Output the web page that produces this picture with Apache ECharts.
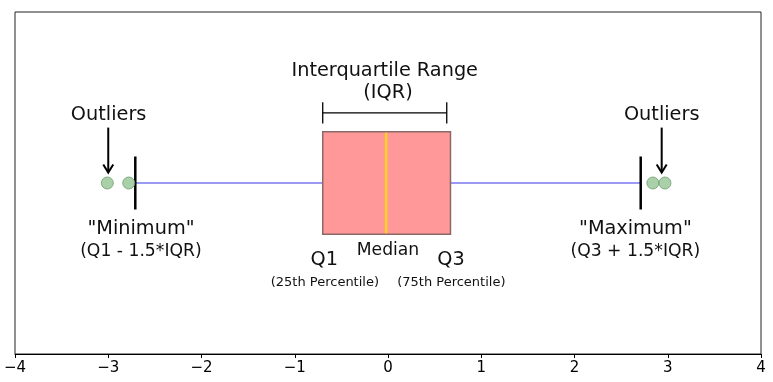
<!DOCTYPE html>
<html><head><meta charset="utf-8">
<script src="https://cdn.jsdelivr.net/npm/echarts@6/dist/echarts.min.js"></script>
<style>html,body{margin:0;padding:0;background:#fff}#c{width:773px;height:382px}</style>
</head><body><div id="c"></div>
<script>
// ---- data ----
const xTickValues = [-4, -3, -2, -1, 0, 1, 2, 3, 4];
const boxStats = [-2.71, -0.70, -0.02, 0.67, 2.71]; // "Minimum", Q1, median, Q3, "Maximum"
const outliers = [-3.01, -2.78, 2.84, 2.97];
const iqrBracket = [-0.70, 0.63];
const arrowX = [-3.0, 2.935];
const arrowStartY = [0.324, 0.324];
const arrowEndY = [0.061, 0.061];
const labelText = ['Interquartile Range', '(IQR)', 'Outliers', 'Outliers', '"Minimum"', '(Q1 - 1.5*IQR)',
  '"Maximum"', '(Q3 + 1.5*IQR)', 'Q1', 'Q3', 'Median', '(25th Percentile)', '(75th Percentile)'];
const labelX = [-0.035, 0.0, -2.996, 2.935, -2.649, -2.65, 2.653, 2.652, -0.683, 0.675, 0.0, -0.677, 0.679];
const labelY = [0.657, 0.525, 0.40, 0.40, -0.267, -0.400, -0.267, -0.400, -0.449, -0.449, -0.395, -0.580, -0.580];
const labelKind = ['big', 'big', 'big', 'big', 'big', 'mid', 'big', 'mid', 'big', 'big', 'mid', 'small', 'small'];

// ---- chart ----
const FONT = 'DejaVu Sans';
const kindSize = { big: 19.3, mid: 17.2, small: 13 };
const chart = echarts.init(document.getElementById('c'), null, { renderer: 'canvas' });

chart.setOption({
  animation: false,
  backgroundColor: '#ffffff',
  grid: { left: 15, right: 12, top: 12, bottom: 28, show: true, borderColor: '#222', borderWidth: 1, backgroundColor: 'transparent' },
  xAxis: {
    type: 'value', min: xTickValues[0], max: xTickValues[xTickValues.length - 1], interval: 1,
    axisLine: { show: true, onZero: false, lineStyle: { color: '#000', width: 1 } },
    axisTick: { show: true, length: 4, lineStyle: { color: '#000' } },
    axisLabel: { color: '#000', fontFamily: FONT, fontSize: 15, margin: 7,
      formatter: v => String(v).replace('-', '\u2212') },
    splitLine: { show: false }
  },
  yAxis: { type: 'value', min: -1, max: 1, show: false, splitLine: { show: false } },
  series: [
    {
      type: 'custom', coordinateSystem: 'cartesian2d', data: [boxStats], z: 2,
      renderItem(params, api) {
        const mn = api.value(0), q1 = api.value(1), md = api.value(2), q3 = api.value(3), mx = api.value(4);
        const p = (x, y) => api.coord([x, y]);
        const c0 = p(mn, 0), c1 = p(q1, 0), c3 = p(q3, 0), c4 = p(mx, 0);
        const tl = p(q1, 0.3), br = p(q3, -0.3);
        const mt = p(md, 0.3), mb = p(md, -0.3);
        const capT0 = p(mn, 0.155), capB0 = p(mn, -0.155), capT4 = p(mx, 0.155), capB4 = p(mx, -0.155);
        return { type: 'group', children: [
          { type: 'line', shape: { x1: c0[0], y1: c0[1], x2: c1[0], y2: c1[1] }, style: { stroke: '#9a9af5', lineWidth: 2 } },
          { type: 'line', shape: { x1: c3[0], y1: c3[1], x2: c4[0], y2: c4[1] }, style: { stroke: '#9a9af5', lineWidth: 2 } },
          { type: 'rect', shape: { x: tl[0], y: tl[1], width: br[0] - tl[0], height: br[1] - tl[1] },
            style: { fill: '#ff9999', stroke: '#8c6868', lineWidth: 1.5 } },
          { type: 'line', shape: { x1: mt[0], y1: mt[1] + 1, x2: mb[0], y2: mb[1] - 1 }, style: { stroke: '#ffd21f', lineWidth: 2.5 } },
          { type: 'line', shape: { x1: capT0[0], y1: capT0[1], x2: capB0[0], y2: capB0[1] }, style: { stroke: '#000', lineWidth: 2.5 } },
          { type: 'line', shape: { x1: capT4[0], y1: capT4[1], x2: capB4[0], y2: capB4[1] }, style: { stroke: '#000', lineWidth: 2.5 } }
        ] };
      }
    },
    {
      type: 'scatter', data: outliers.map(v => [v, 0]), symbol: 'circle', symbolSize: 12, z: 3,
      itemStyle: { color: '#93c493', borderColor: '#6f9f6f', borderWidth: 1 }
    },
    {
      type: 'custom', coordinateSystem: 'cartesian2d', z: 3,
      data: [[iqrBracket[0], iqrBracket[1], 0.41]],
      renderItem(params, api) {
        const a = api.coord([api.value(0), api.value(2)]);
        const b = api.coord([api.value(1), api.value(2)]);
        const h = api.size([0, 0.062])[1];
        return { type: 'group', children: [
          { type: 'line', shape: { x1: a[0], y1: a[1], x2: b[0], y2: b[1] }, style: { stroke: '#000', lineWidth: 1.3 } },
          { type: 'line', shape: { x1: a[0], y1: a[1] - h, x2: a[0], y2: a[1] + h }, style: { stroke: '#000', lineWidth: 1.3 } },
          { type: 'line', shape: { x1: b[0], y1: b[1] - h, x2: b[0], y2: b[1] + h }, style: { stroke: '#000', lineWidth: 1.3 } }
        ] };
      }
    },
    {
      type: 'custom', coordinateSystem: 'cartesian2d', z: 3,
      data: arrowX.map((x, i) => [x, arrowStartY[i], arrowEndY[i]]),
      renderItem(params, api) {
        const s = api.coord([api.value(0), api.value(1)]);
        const e = api.coord([api.value(0), api.value(2)]);
        return { type: 'group', children: [
          { type: 'line', shape: { x1: s[0], y1: s[1], x2: e[0], y2: e[1] - 1 }, style: { stroke: '#000', lineWidth: 2 } },
          { type: 'polyline', shape: { points: [[e[0] - 5, e[1] - 8], [e[0], e[1]], [e[0] + 5, e[1] - 8]] },
            style: { stroke: '#000', lineWidth: 2, fill: null } }
        ] };
      }
    },
    {
      type: 'custom', coordinateSystem: 'cartesian2d', z: 4,
      data: labelText.map((t, i) => [labelX[i], labelY[i], i]),
      renderItem(params, api) {
        const i = api.value(2);
        const pt = api.coord([api.value(0), api.value(1)]);
        return { type: 'text', x: pt[0], y: pt[1], style: {
          text: labelText[i], fontFamily: FONT, fontSize: kindSize[labelKind[i]],
          fill: '#111', align: 'center', verticalAlign: 'middle' } };
      }
    }
  ]
});
</script></body></html>
